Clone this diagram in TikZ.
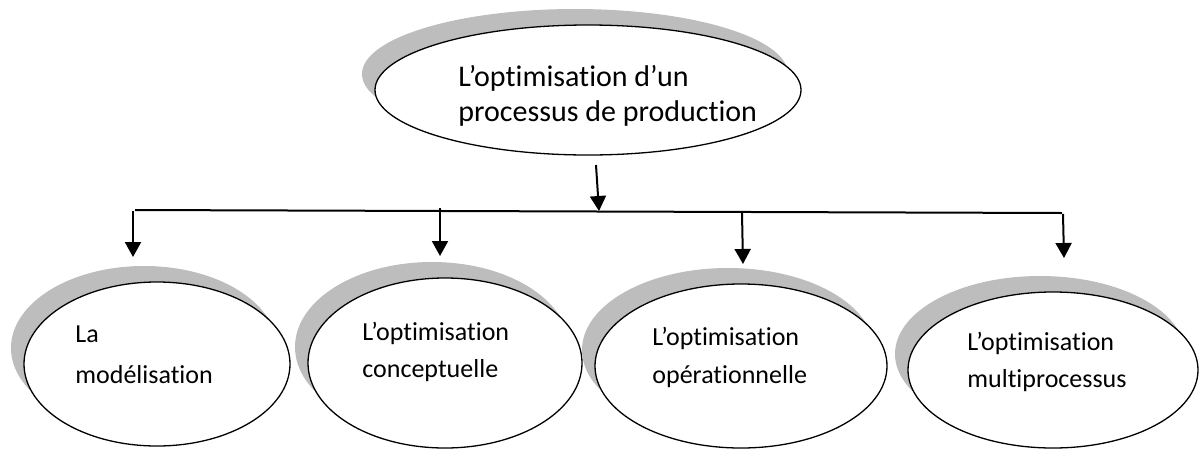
\documentclass[tikz,border=0pt]{standalone}
\usepackage{fontspec}
\setmainfont{Carlito}[Ligatures={NoCommon,NoRequired,NoContextual}]
\usetikzlibrary{shapes.geometric,arrows.meta,shadows}
\definecolor{shadowgray}{HTML}{BDBDBD}
\tikzset{
  bubble/.style={ellipse, draw=black, line width=0.65pt, fill=white, inner sep=0pt,
    copy shadow={shadow xshift=-6.5pt, shadow yshift=8pt, fill=shadowgray, draw=none}},
  toplabel/.style={anchor=base west, inner sep=0pt, font=\fontsize{15}{18}\selectfont},
  sublabel/.style={anchor=base west, inner sep=0pt, font=\fontsize{13}{15}\selectfont},
  link/.style={line width=1pt, -{Triangle[length=7.5pt,width=8pt]}},
  bar/.style={line width=1pt}
}
\begin{document}
\begin{tikzpicture}[x=0.5pt,y=-0.5pt]
\useasboundingbox (0,0) rectangle (1200,451);

% main ellipse
\node[bubble, minimum width=213pt, minimum height=65pt] (top) at (588,90) {};
\node[toplabel] (topa) at (458,86) {L’optimisation d’un};
\node[toplabel] (topb) at (458,121) {processus de production};

% sub ellipses
\node[bubble, minimum width=133pt, minimum height=82pt] (e1) at (157,364) {};
\node[sublabel] (e1a) at (75,342) {La};
\node[sublabel] (e1b) at (75,383) {modélisation};

\node[bubble, minimum width=137pt, minimum height=85pt] (e2) at (445,363) {};
\node[sublabel] (e2a) at (362,340) {L’optimisation};
\node[sublabel] (e2b) at (362,377) {conceptuelle};

\node[bubble, minimum width=146pt, minimum height=82pt] (e3) at (741,366) {};
\node[sublabel] (e3a) at (652,345) {L’optimisation};
\node[sublabel] (e3b) at (652,383) {opérationnelle};

\node[bubble, minimum width=145pt, minimum height=78pt] (e4) at (1053,370) {};
\node[sublabel] (e4a) at (967,350) {L’optimisation};
\node[sublabel] (e4b) at (967,387) {multiprocessus};

% connector points
\coordinate (s0) at (596,165);
\coordinate (j0) at (599,211);
\coordinate (bl) at (135,210);
\coordinate (br) at (1062,213);
\coordinate (s1) at (133,211);
\coordinate (s2) at (440,208);
\coordinate (s3) at (742,213);
\coordinate (s4) at (1063,214);
\coordinate (t1) at (133,257);
\coordinate (t2) at (440,256);
\coordinate (t3) at (743,264);
\coordinate (t4) at (1064,258);

\draw[bar] (bl) -- (br);
\draw[link] (s0) -- (j0);
\draw[link] (s1) -- (t1);
\draw[link] (s2) -- (t2);
\draw[link] (s3) -- (t3);
\draw[link] (s4) -- (t4);
\end{tikzpicture}
\end{document}
